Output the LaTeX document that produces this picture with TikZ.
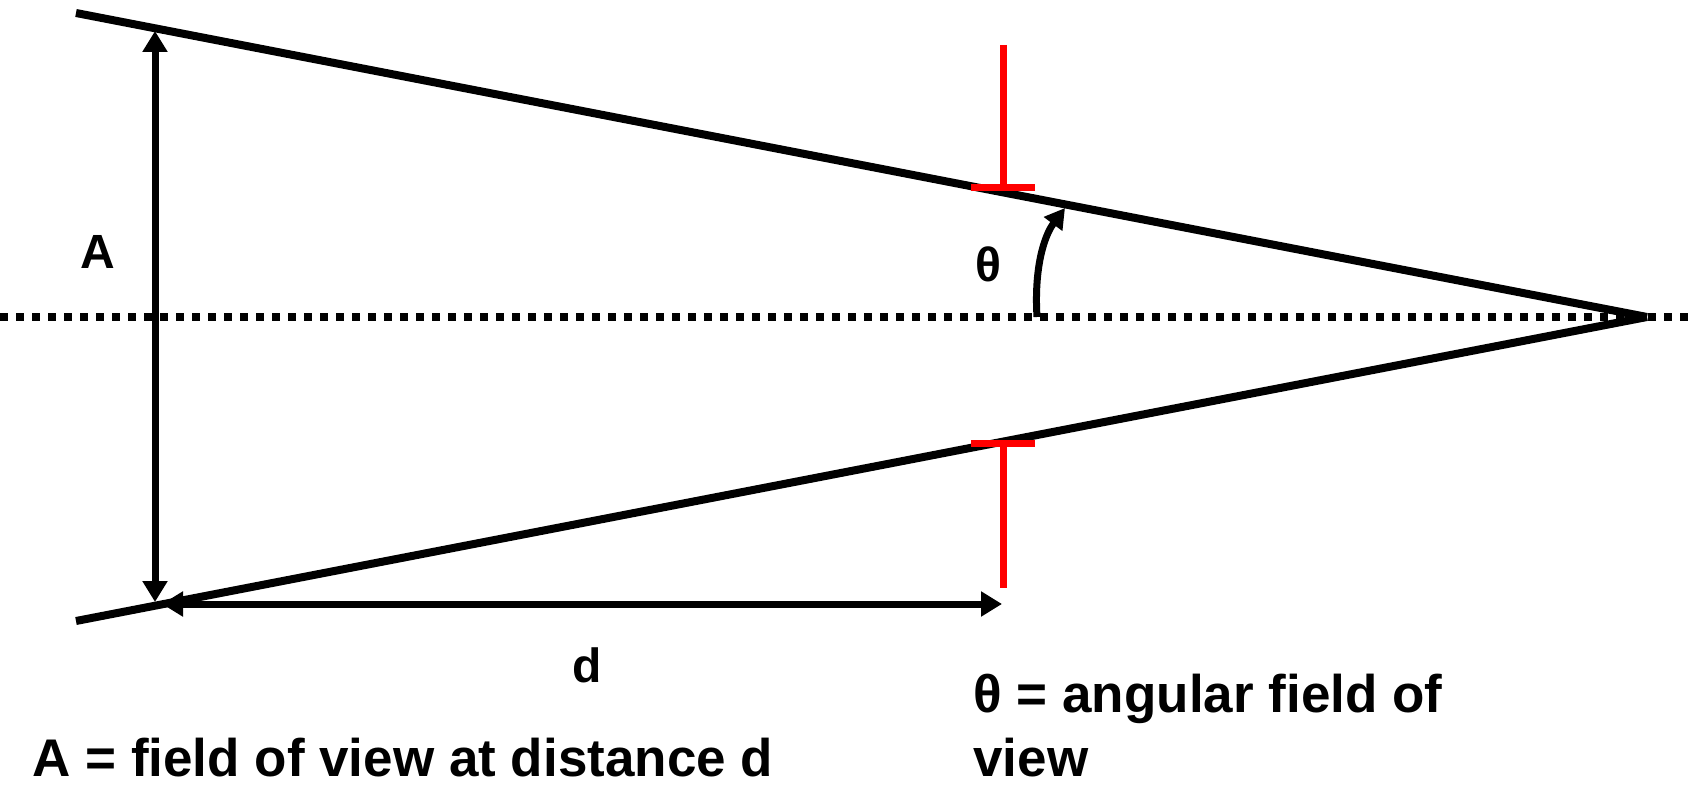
\documentclass[tikz,border=0pt]{standalone}
\usepackage{fontspec}
\setmainfont{Liberation Sans}
\usetikzlibrary{arrows.meta}
\begin{document}
\begin{tikzpicture}[x=0.5pt,y=-0.5pt,
  ray/.style={line width=4pt,line cap=butt},
  axisline/.style={line width=4pt,dash pattern=on 4pt off 4pt},
  dimarrow/.style={line width=3.5pt,{Triangle[length=10.5pt,width=12pt]}-{Triangle[length=10.5pt,width=12pt]}},
  anglearrow/.style={line width=3.5pt,-{Triangle[length=10pt,width=11pt]}},
  marker/.style={line width=3.5pt,red},
  lbl/.style={font=\bfseries\fontsize{24}{28}\selectfont,inner sep=0pt},
  caption/.style={font=\bfseries\fontsize{26.5}{32}\selectfont,inner sep=0pt,anchor=base west}]
\useasboundingbox (0,0) rectangle (1696,785);
\coordinate (TL) at (76,13);
\coordinate (BL) at (76,621);
\coordinate (V) at (1647,317);
\coordinate (axL) at (0,317);
\coordinate (axR) at (1696,317);
\coordinate (aTop) at (155,31);
\coordinate (aBot) at (155,602);
\coordinate (dL) at (162,604);
\coordinate (dR) at (1002,604);
\coordinate (rTop) at (1003,45);
\coordinate (rTopBar) at (1003,188);
\coordinate (rTopBarL) at (971,188);
\coordinate (rTopBarR) at (1035,188);
\coordinate (rBot) at (1003,588);
\coordinate (rBotBar) at (1003,444);
\coordinate (rBotBarL) at (971,444);
\coordinate (rBotBarR) at (1035,444);
\coordinate (arcS) at (1037,317);
\coordinate (arcE) at (1065,208);
% axis
\draw[axisline] (axL) -- (axR);
% rays
\draw[ray] (TL) -- (V);
\draw[ray] (BL) -- (V);
% red markers
\draw[marker] (rTop) -- (rTopBar);
\draw[marker] (rTopBarL) -- (rTopBarR);
\draw[marker] (rBotBarL) -- (rBotBarR);
\draw[marker] (rBotBar) -- (rBot);
% dimension arrows
\draw[dimarrow] (aTop) -- (aBot);
\draw[dimarrow] (dL) -- (dR);
% angle arrow
\draw[anglearrow] (arcS) .. controls (1034,268) and (1044,236) .. (arcE);
% labels
\node[lbl] (labA) at (98,252) {A};
\node[lbl] (labT) at (988,264) {θ};
\node[lbl] (labD) at (587,665) {d};
\node[caption] (capA) at (32,776) {A = field of view at distance d};
\node[caption] (capT1) at (973,712) {θ = angular field of};
\node[caption] (capT2) at (973,776) {view};
\end{tikzpicture}
\end{document}
